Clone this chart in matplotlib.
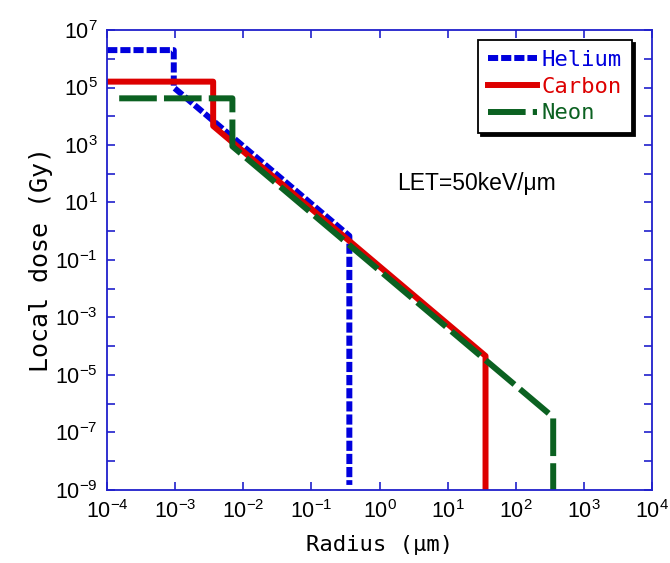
# -*- coding: utf-8 -*-

import numpy as np
from matplotlib import pyplot as plt
from matplotlib import ticker

# radius (um) and local dose (Gy)
helium_r = [1e-4, 9.5e-4, 9.5e-4, 0.36, 0.36]
helium_d = [2e6, 2e6, 1e5, 0.69, 1.5e-9]

carbon_r = [1e-4, 3.6e-3, 3.6e-3, 36, 36]
carbon_d = [1.6e5, 1.6e5, 4.6e3, 4.6e-5, 1e-9]

neon_r = [1.5e-4, 6.9e-3, 6.9e-3, 355, 355]
neon_d = [4.2e4, 4.2e4, 900, 3.4e-7, 1e-9]

labels = ['Helium', 'Carbon', 'Neon']
colors = ['#0000dd', '#dd0000', '#0b6121']

plt.rcParams['font.family'] = ['Liberation Sans', 'DejaVu Sans']
plt.rcParams['mathtext.fontset'] = 'custom'
plt.rcParams['mathtext.rm'] = 'Liberation Sans'
plt.rcParams['mathtext.it'] = 'Liberation Sans'
plt.rcParams['mathtext.sf'] = 'Liberation Sans'

axis_blue = '#2020cc'

fig = plt.figure(figsize=(6.7, 5.63), dpi=100)
ax = fig.add_axes([0.160, 0.1297, 0.813, 0.817])

ax.plot(helium_r, helium_d, color=colors[0], lw=4.3, dashes=(1.7, 0.5), label=labels[0])
ax.plot(carbon_r, carbon_d, color=colors[1], lw=4.3, label=labels[1])
ax.plot(neon_r, neon_d, color=colors[2], lw=4.3, dashes=(6.3, 1.2), label=labels[2])

ax.set_xscale('log')
ax.set_yscale('log')
ax.set_xlim(1e-4, 1e4)
ax.set_ylim(1e-9, 1e7)

ax.xaxis.set_major_locator(ticker.LogLocator(base=10, numticks=20))
ax.xaxis.set_minor_locator(ticker.NullLocator())
ax.yaxis.set_major_locator(ticker.FixedLocator([10.0 ** e for e in range(-9, 8, 2)]))
ax.yaxis.set_major_formatter(ticker.LogFormatterSciNotation())
ax.yaxis.set_minor_locator(ticker.FixedLocator([10.0 ** e for e in range(-8, 7, 2)]))
ax.yaxis.set_minor_formatter(ticker.NullFormatter())

for side in ax.spines.values():
    side.set_color(axis_blue)
    side.set_linewidth(1.3)
ax.tick_params(which='both', direction='in', top=True, right=True,
               length=6, width=1.2, color=axis_blue, labelsize=15.5, pad=7)

ax.set_xlabel('Radius (\u03bcm)', family='DejaVu Sans Mono', fontsize=16, labelpad=9)
ax.set_ylabel('Local dose (Gy)', family='DejaVu Sans Mono', fontsize=18, labelpad=1)

ax.text(0.532, 0.667, 'LET=50keV/\u03bcm', transform=ax.transAxes,
        fontsize=16.5, ha='left', va='center')

leg = ax.legend(loc='upper right', bbox_to_anchor=(0.963, 0.978), fancybox=False,
                shadow={'color': 'black', 'alpha': 1}, edgecolor='black',
                framealpha=1, prop={'family': 'DejaVu Sans Mono', 'size': 16},
                handlelength=2.2, handletextpad=0.2, labelspacing=0.3,
                borderpad=0.45, borderaxespad=0)
leg.get_frame().set_linewidth(1.3)
for txt, c in zip(leg.get_texts(), colors):
    txt.set_color(c)

fig.savefig('out.png', dpi=100)
